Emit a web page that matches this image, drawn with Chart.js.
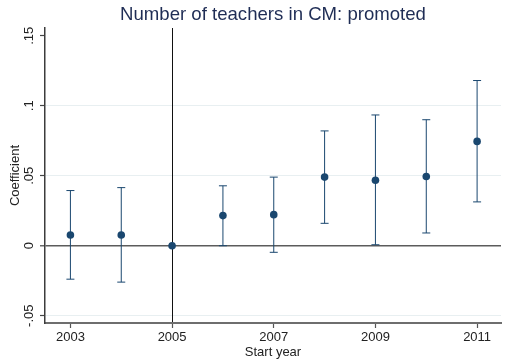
<!DOCTYPE html>
<html>
<head>
<meta charset="utf-8">
<script src="https://cdn.jsdelivr.net/npm/chart.js@4/dist/chart.umd.min.js"></script>
<style>
  html, body { margin: 0; padding: 0; background: #ffffff; }
  canvas { display: block; }
</style>
</head>
<body>
<canvas id="chart" width="506" height="360"></canvas>
<script>
// Event-study coefficients by start year, with 95% confidence bounds
const years  = [2003, 2004, 2005, 2006, 2007, 2008, 2009, 2010, 2011];
const coef   = [0.0077, 0.0077, 0, 0.0215, 0.0222, 0.0490, 0.0468, 0.0494, 0.0745];
const ciLow  = [-0.0239, -0.0260, null, 0.0000, -0.0047, 0.0160, 0.0007, 0.0091, 0.0313];
const ciHigh = [0.0394, 0.0415, null, 0.0428, 0.0490, 0.0820, 0.0934, 0.0900, 0.1180];

// Axis ticks
const xTickYears  = [2003, 2005, 2007, 2009, 2011];
const yTickValues = [-0.05, 0, 0.05, 0.1, 0.15];
const yTickLabels = ['-.05', '0', '.05', '.1', '.15'];
const baseYear = 2005;

const NAVY = '#1a476f';
const FONT = '"Liberation Sans", Arial, Helvetica, sans-serif';

// One two-point segment per year for the confidence interval, capped at both ends
const ciDatasets = years
  .map((yr, i) => ciLow[i] === null ? null : {
    type: 'scatter',
    data: [{ x: yr, y: ciLow[i] }, { x: yr, y: ciHigh[i] }],
    showLine: true,
    borderColor: NAVY,
    borderWidth: 1,
    pointStyle: 'line',
    pointRadius: 4,
    pointHoverRadius: 4,
    pointBorderColor: NAVY,
    pointBorderWidth: 1
  })
  .filter(Boolean);

const pointDataset = {
  type: 'scatter',
  data: years.map((yr, i) => ({ x: yr, y: coef[i] })),
  showLine: false,
  pointStyle: 'circle',
  pointRadius: 3.8,
  pointHoverRadius: 3.8,
  backgroundColor: NAVY,
  borderColor: NAVY,
  borderWidth: 0
};

new Chart(document.getElementById('chart'), {
  type: 'scatter',
  data: { datasets: [pointDataset, ...ciDatasets] },
  options: {
    responsive: false,
    animation: false,
    layout: { padding: 0 },
    plugins: {
      legend: { display: false },
      tooltip: { enabled: false },
      title: {
        display: true,
        text: 'Number of teachers in CM: promoted',
        fullSize: false,
        align: 'center',
        color: '#1f2d55',
        font: { family: FONT, size: 18.6, weight: 'normal', lineHeight: 1.2 },
        padding: { top: 3.4, bottom: 2.3 }
      }
    },
    scales: {
      x: {
        type: 'linear',
        min: 2002.5,
        max: 2011.47,
        afterBuildTicks: s => { s.ticks = xTickYears.map(v => ({ value: v })); },
        afterFit: s => { s.height = 37; },
        ticks: {
          callback: v => String(v),
          autoSkip: false,
          maxRotation: 0,
          padding: 2,
          color: '#222222',
          font: { family: FONT, size: 13 }
        },
        grid: {
          z: -1,
          color: ctx => (ctx.tick && ctx.tick.value === baseYear) ? '#111111' : 'rgba(0,0,0,0)',
          lineWidth: 1,
          tickLength: 5,
          tickColor: '#555555',
          tickWidth: 1.2
        },
        border: { color: '#6e6e6e', width: 2 },
        title: {
          display: true,
          text: 'Start year',
          color: '#222222',
          font: { family: FONT, size: 13 },
          padding: { top: 0, bottom: 0 }
        }
      },
      y: {
        type: 'linear',
        min: -0.0552,
        max: 0.1555,
        afterBuildTicks: s => { s.ticks = yTickValues.map(v => ({ value: v })); },
        afterFit: s => { s.width = 45; },
        ticks: {
          callback: (v, i) => yTickLabels[i],
          autoSkip: false,
          minRotation: 90,
          maxRotation: 90,
          crossAlign: 'center',
          padding: -1,
          color: '#222222',
          font: { family: FONT, size: 13 }
        },
        grid: {
          z: -2,
          color: ctx => {
            const v = ctx.tick ? ctx.tick.value : null;
            if (v === 0) return '#5c5c5c';
            if (v === 0.15) return 'rgba(0,0,0,0)';
            return '#e8eff1';
          },
          lineWidth: ctx => (ctx.tick && ctx.tick.value === 0) ? 1.6 : 1,
          tickLength: 5,
          tickColor: '#444444',
          tickWidth: 1.2
        },
        border: { color: '#3c3c3c', width: 1.5 },
        title: {
          display: true,
          text: 'Coefficient',
          color: '#222222',
          font: { family: FONT, size: 13 },
          padding: { top: 7.7, bottom: 0 }
        }
      }
    }
  }
});
</script>
</body>
</html>
